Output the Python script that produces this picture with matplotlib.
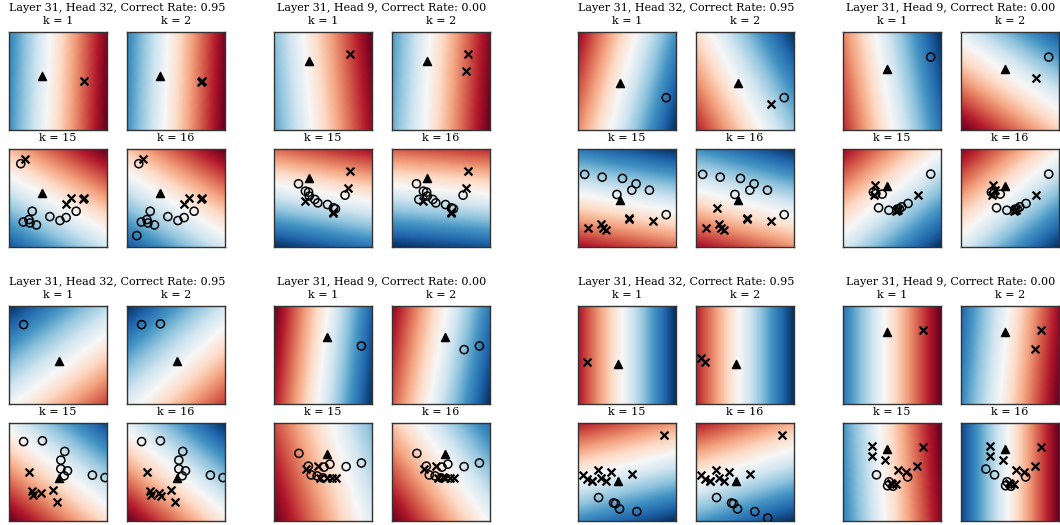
import numpy as np
import matplotlib
matplotlib.use("Agg")
import matplotlib.pyplot as plt

# titles of the 8 blocks (row by row)
block_titles = [
    "Layer 31, Head 32, Correct Rate: 0.95", "Layer 31, Head 9, Correct Rate: 0.00",
    "Layer 31, Head 32, Correct Rate: 0.95", "Layer 31, Head 9, Correct Rate: 0.00",
    "Layer 31, Head 32, Correct Rate: 0.95", "Layer 31, Head 9, Correct Rate: 0.00",
    "Layer 31, Head 32, Correct Rate: 0.95", "Layer 31, Head 9, Correct Rate: 0.00",
]
k_values = [1, 2, 15, 16]

# query point (triangle) per block
query_x = [0.34, 0.356, 0.43, 0.45, 0.515, 0.539, 0.41, 0.451]
query_y = [0.55, 0.70, 0.476, 0.625, 0.44, 0.68, 0.408, 0.737]

# in-context points per block, in order (panel k shows the first k); label 1 = x, 0 = o
pts_x = [
    [0.77, 0.76, 0.16, 0.12, 0.63, 0.58, 0.685, 0.583, 0.52, 0.417, 0.237, 0.203, 0.146, 0.214, 0.28, 0.10],
    [0.78, 0.757, 0.725, 0.25, 0.32, 0.353, 0.36, 0.315, 0.417, 0.447, 0.546, 0.607, 0.627, 0.597, 0.603, 0.274],
    [0.90, 0.77, 0.068, 0.247, 0.454, 0.593, 0.549, 0.729, 0.397, 0.519, 0.525, 0.105, 0.231, 0.254, 0.281, 0.21],
    [0.895, 0.77, 0.363, 0.468, 0.664, 0.33, 0.32, 0.335, 0.40, 0.31, 0.55, 0.56, 0.575, 0.545, 0.60, 0.345],
    [0.149, 0.341, 0.569, 0.529, 0.529, 0.597, 0.563, 0.851, 0.98, 0.207, 0.234, 0.244, 0.322, 0.444, 0.492, 0.348],
    [0.892, 0.736, 0.254, 0.35, 0.45, 0.51, 0.57, 0.33, 0.38, 0.44, 0.47, 0.50, 0.54, 0.59, 0.63, 0.52],
    [0.088, 0.05, 0.881, 0.142, 0.147, 0.203, 0.237, 0.281, 0.336, 0.553, 0.21, 0.363, 0.383, 0.424, 0.60, 0.732],
    [0.814, 0.756, 0.295, 0.292, 0.424, 0.563, 0.641, 0.66, 0.342, 0.47, 0.485, 0.455, 0.50, 0.51, 0.545, 0.254],
]
pts_y = [
    [0.50, 0.49, 0.90, 0.85, 0.495, 0.44, 0.365, 0.30, 0.27, 0.31, 0.365, 0.28, 0.255, 0.245, 0.225, 0.116],
    [0.775, 0.60, 0.529, 0.645, 0.57, 0.56, 0.52, 0.474, 0.485, 0.45, 0.433, 0.40, 0.39, 0.348, 0.36, 0.485],
    [0.33, 0.266, 0.741, 0.713, 0.70, 0.645, 0.58, 0.58, 0.536, 0.29, 0.295, 0.191, 0.239, 0.198, 0.177, 0.403],
    [0.744, 0.53, 0.40, 0.375, 0.444, 0.63, 0.535, 0.545, 0.54, 0.56, 0.385, 0.375, 0.39, 0.37, 0.41, 0.585],
    [0.81, 0.818, 0.71, 0.621, 0.532, 0.512, 0.461, 0.468, 0.443, 0.502, 0.307, 0.27, 0.287, 0.314, 0.191, 0.253],
    [0.592, 0.555, 0.69, 0.56, 0.56, 0.55, 0.58, 0.53, 0.47, 0.46, 0.44, 0.44, 0.44, 0.44, 0.435, 0.445],
    [0.432, 0.469, 0.877, 0.41, 0.405, 0.519, 0.443, 0.41, 0.505, 0.478, 0.239, 0.184, 0.177, 0.123, 0.096, 0.03],
    [0.757, 0.558, 0.765, 0.662, 0.621, 0.519, 0.495, 0.45, 0.471, 0.40, 0.385, 0.36, 0.375, 0.355, 0.375, 0.53],
]
pts_label = [
    [1, 1, 1, 0, 1, 1, 0, 0, 0, 0, 0, 0, 0, 0, 0, 0],
    [1, 1, 0, 0, 0, 0, 0, 1, 0, 0, 0, 0, 0, 1, 1, 0],
    [0, 1, 0, 0, 0, 0, 0, 0, 0, 1, 1, 1, 1, 1, 1, 1],
    [0, 1, 0, 0, 0, 1, 1, 0, 0, 0, 0, 1, 0, 1, 0, 1],
    [0, 0, 0, 0, 0, 0, 0, 0, 0, 1, 1, 1, 1, 1, 1, 1],
    [0, 0, 0, 0, 1, 0, 0, 1, 0, 0, 1, 0, 1, 1, 1, 1],
    [1, 1, 1, 1, 1, 1, 1, 1, 1, 1, 0, 0, 0, 0, 0, 0],
    [1, 1, 1, 1, 1, 1, 1, 0, 0, 0, 1, 0, 1, 0, 1, 0],
]

# background decision field: direction towards red (deg) and shift of the white line
bg_theta = [
    [-2, -2, 60, 58],
    [5, -3, 80, 85],
    [165, 208, 260, 255],
    [190, 235, 130, 130],
    [-53, -48, 232, 230],
    [174, 170, 197, 215],
    [180, 180, 104, 108],
    [0, -5, 3, 0],
]
bg_offset = [
    [-0.10, -0.10, -0.05, -0.05],
    [-0.16, -0.14, 0.05, 0.08],
    [0.04, 0.08, 0.05, 0.05],
    [0.08, -0.05, 0.05, 0.03],
    [0.13, 0.12, -0.035, 0.0],
    [0.0, 0.03, -0.23, -0.10],
    [0.05, 0.06, 0.07, 0.07],
    [-0.08, -0.06, -0.10, -0.02],
]

W, H = 1060, 525
fig = plt.figure(figsize=(W / 100, H / 100), dpi=100)
plt.rcParams["font.family"] = "DejaVu Serif"

col_left = [9, 274, 578, 843]     # left edge of each block (px)
row_top = [32, 306]               # top edge of each block (px)
sub_dx, sub_dy, size = 118, 117, 98

g = np.linspace(0, 1, 200)
gx, gy = np.meshgrid(g, g)

for b in range(8):
    r, c = divmod(b, 4)
    x0, y0 = col_left[c], row_top[r]
    fig.text((x0 + sub_dx / 2 + size / 2) / W, 1 - (y0 - 24) / H, block_titles[b],
             ha="center", va="center", fontsize=8)
    for j, k in enumerate(k_values):
        i, jj = divmod(j, 2)
        left = x0 + jj * sub_dx
        top = y0 + i * sub_dy
        ax = fig.add_axes([left / W, 1 - (top + size) / H, size / W, size / H])
        th = np.deg2rad(bg_theta[b][j])
        f = (gx - 0.5) * np.cos(th) + (gy - 0.5) * np.sin(th) - bg_offset[b][j]
        f = f / np.abs(f).max()
        ax.imshow(0.5 - 0.5 * f, cmap="RdBu", vmin=0, vmax=1, origin="lower",
                  extent=[0, 1, 0, 1], aspect="auto", interpolation="bilinear")
        xs = np.array(pts_x[b][:k])
        ys = np.array(pts_y[b][:k])
        lab = np.array(pts_label[b][:k])
        ax.scatter(xs[lab == 1], ys[lab == 1], marker="x", c="black", s=32, linewidths=1.6, zorder=3)
        ax.scatter(xs[lab == 0], ys[lab == 0], marker="o", facecolors="none", edgecolors="black",
                   s=34, linewidths=1.1, zorder=3)
        ax.scatter([query_x[b]], [query_y[b]], marker="^", c="black", s=34, zorder=4)
        ax.set_xlim(0, 1)
        ax.set_ylim(0, 1)
        ax.set_xticks([])
        ax.set_yticks([])
        for sp in ax.spines.values():
            sp.set_color("0.2")
            sp.set_linewidth(1.0)
        fig.text((left + size / 2) / W, 1 - (top - 11) / H, f"k = {k}",
                 ha="center", va="center", fontsize=8)

fig.savefig("out.png", dpi=100)
